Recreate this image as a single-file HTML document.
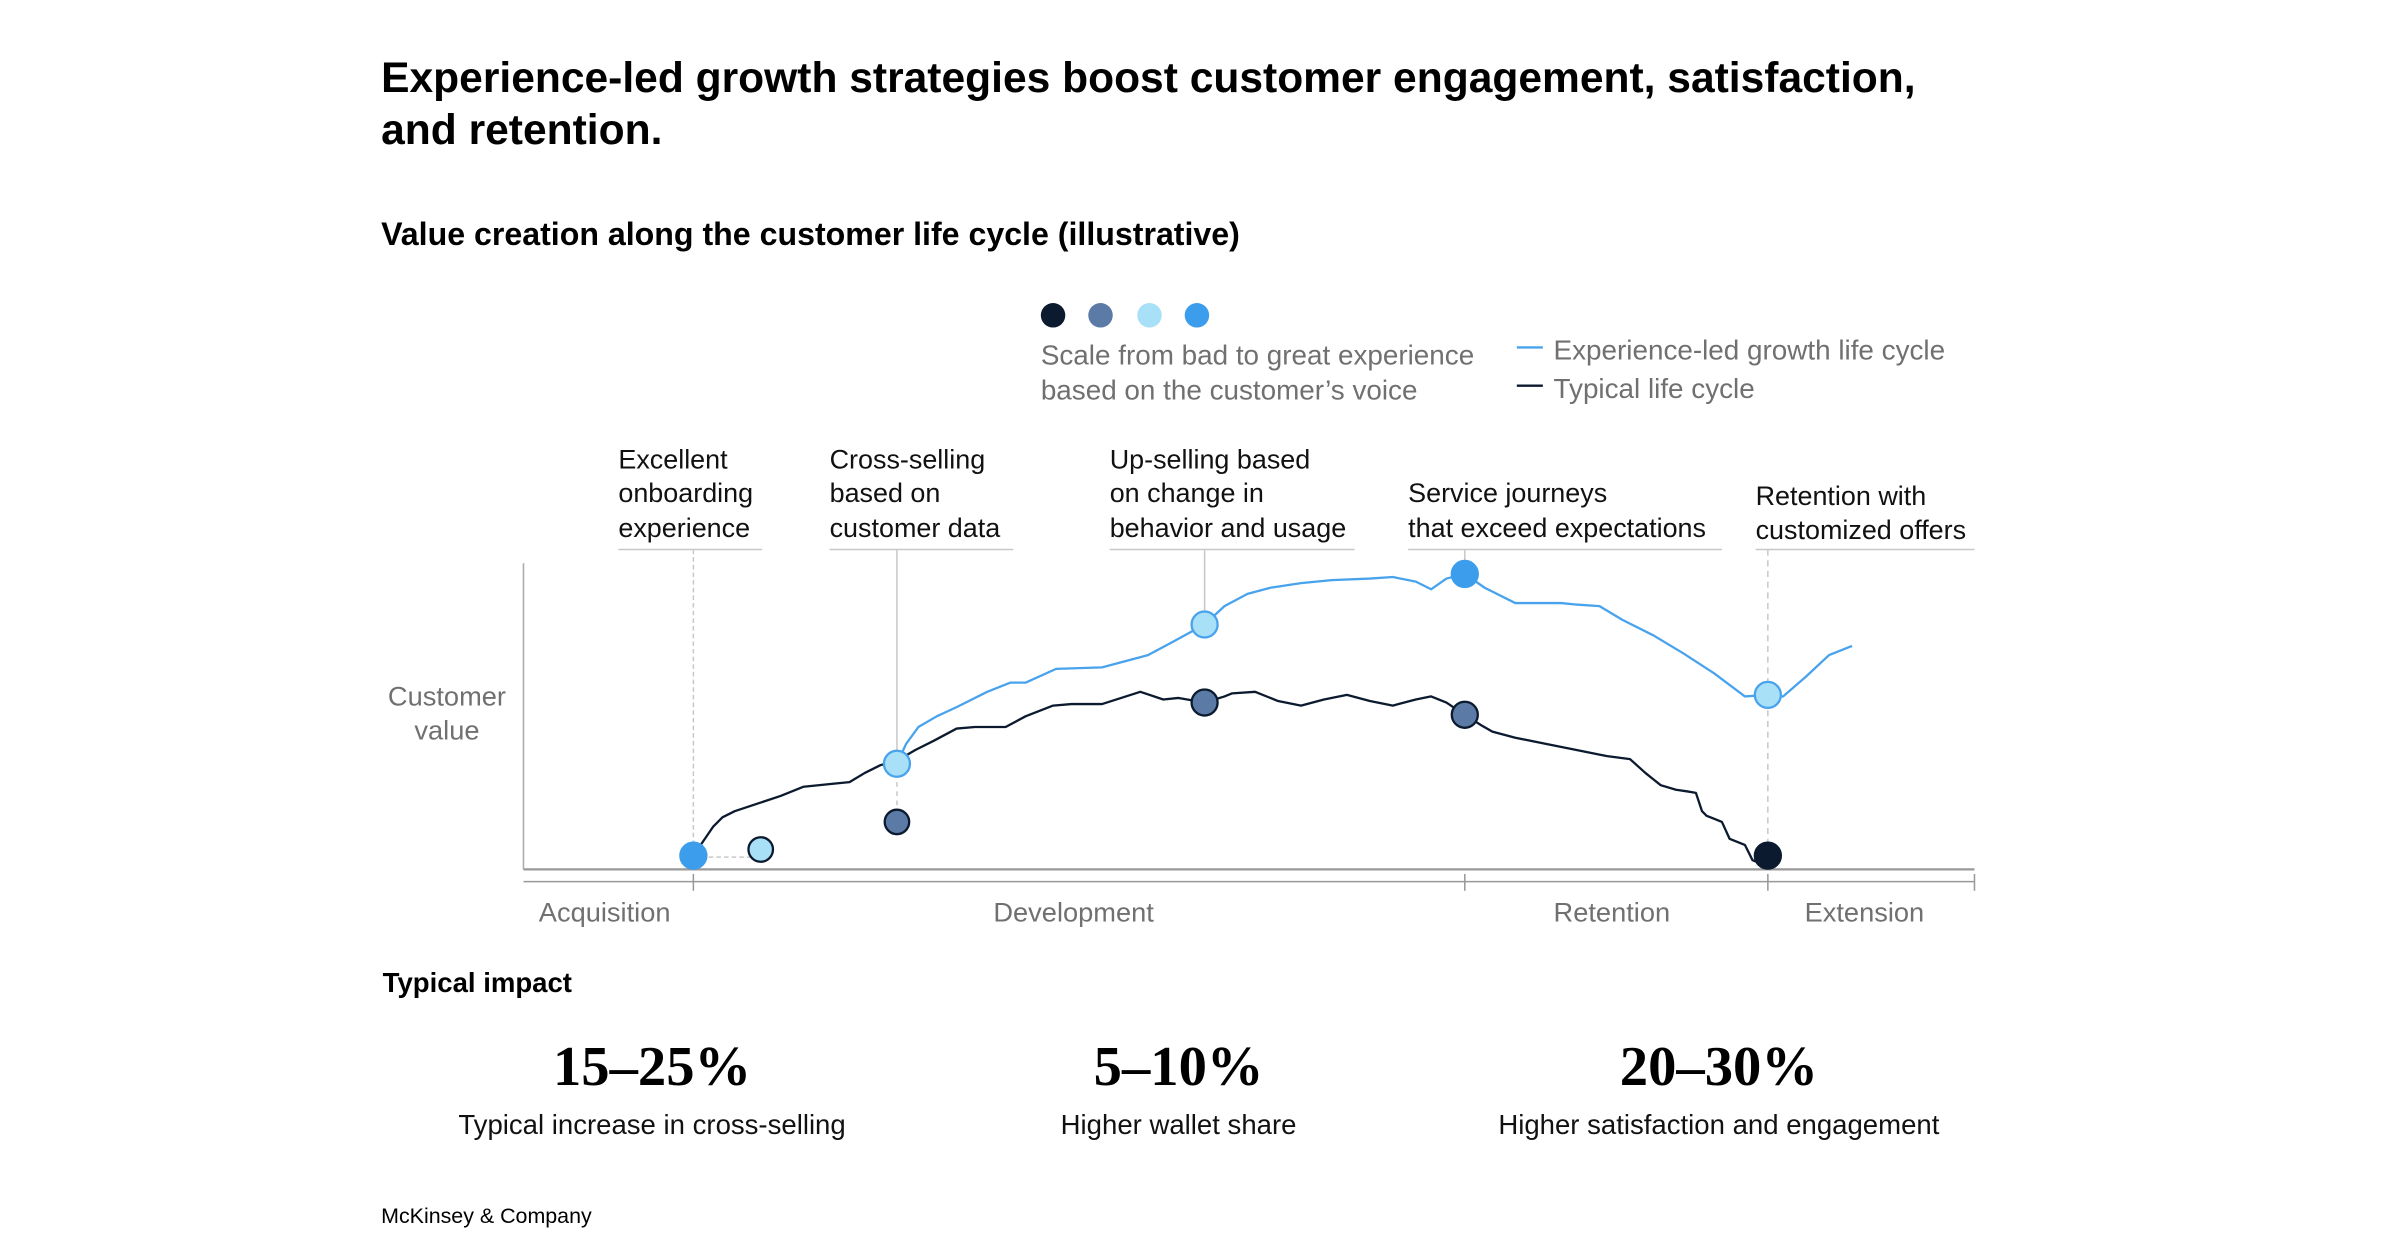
<!DOCTYPE html>
<html><head><meta charset="utf-8"><style>
html,body{margin:0;padding:0;background:#fff;}
svg{display:block;}
text{font-family:"Liberation Sans",sans-serif;}
</style></head><body>
<svg width="2400" height="1256" viewBox="0 0 1568 820.6" xmlns="http://www.w3.org/2000/svg">
<rect width="1568" height="820.6" fill="#fff"/>
<text x="249" y="60" font-size="27.8" font-weight="bold" fill="#000">Experience-led growth strategies boost customer engagement, satisfaction,</text>
<text x="249" y="94" font-size="27.8" font-weight="bold" fill="#000">and retention.</text>
<text x="249" y="160" font-size="21" font-weight="bold" fill="#000">Value creation along the customer life cycle (illustrative)</text>

<circle cx="688" cy="206" r="8" fill="#0b1a2e"/>
<circle cx="719" cy="206" r="8" fill="#5b7aa5"/>
<circle cx="751" cy="206" r="8" fill="#a8e0f8"/>
<circle cx="782" cy="206" r="8" fill="#3d9ded"/>
<g font-size="18.2" fill="#707070">
<text x="680" y="238">Scale from bad to great experience</text>
<text x="680" y="261">based on the customer’s voice</text>
<text x="1015" y="235">Experience-led growth life cycle</text>
<text x="1015" y="260">Typical life cycle</text>
</g>
<line x1="991" y1="227" x2="1008" y2="227" stroke="#49a3ec" stroke-width="1.5"/>
<line x1="991" y1="252" x2="1008" y2="252" stroke="#0b1a2e" stroke-width="1.5"/>

<g font-size="17.6" fill="#111">
<text x="404" y="306">Excellent</text><text x="404" y="328">onboarding</text><text x="404" y="351">experience</text>
<text x="542" y="306">Cross-selling</text><text x="542" y="328">based on</text><text x="542" y="351">customer data</text>
<text x="725" y="306">Up-selling based</text><text x="725" y="328">on change in</text><text x="725" y="351">behavior and usage</text>
<text x="920" y="328">Service journeys</text><text x="920" y="351">that exceed expectations</text>
<text x="1147" y="330">Retention with</text><text x="1147" y="352">customized offers</text>
</g>
<g stroke="#c8c8c8" stroke-width="1">
<line x1="404" y1="359" x2="498" y2="359"/>
<line x1="542" y1="359" x2="662" y2="359"/>
<line x1="725" y1="359" x2="885" y2="359"/>
<line x1="920" y1="359" x2="1125" y2="359"/>
<line x1="1147" y1="359" x2="1290" y2="359"/>
<line x1="453" y1="359" x2="453" y2="559" stroke-dasharray="3 2"/>
<line x1="586" y1="359" x2="586" y2="499"/>
<line x1="586" y1="499" x2="586" y2="537" stroke-dasharray="3 3"/>
<line x1="787" y1="359" x2="787" y2="408"/>
<line x1="957" y1="359" x2="957" y2="375"/>
<line x1="1155" y1="359" x2="1155" y2="566" stroke-dasharray="4 3"/>
<line x1="453" y1="560" x2="497" y2="560" stroke-dasharray="3 2"/>
</g>

<line x1="342" y1="368" x2="342" y2="568" stroke="#aaa" stroke-width="1"/>
<line x1="342" y1="568" x2="1290" y2="568" stroke="#999" stroke-width="1.5"/>
<line x1="342" y1="576" x2="1290" y2="576" stroke="#999" stroke-width="1"/>
<g stroke="#999" stroke-width="1">
<line x1="453" y1="571" x2="453" y2="582"/><line x1="957" y1="571" x2="957" y2="582"/>
<line x1="1155" y1="571" x2="1155" y2="582"/><line x1="1290" y1="571" x2="1290" y2="582"/>
</g>
<g font-size="17.8" fill="#707070">
<text x="292" y="461" text-anchor="middle">Customer</text>
<text x="292" y="483" text-anchor="middle">value</text>
<text x="352" y="602">Acquisition</text>
<text x="649" y="602">Development</text>
<text x="1015" y="602">Retention</text>
<text x="1179" y="602">Extension</text>
</g>

<polyline fill="none" stroke="#49a3ec" stroke-width="1.5" stroke-linejoin="round" points="586,499 592,486 600,475 612,468 625,462 645,452 660,446 670,446 690,437 720,436 735,432 750,428 765,420 787,408 800,396 815,388 830,384 850,381 870,379 895,378 910,377 925,380 935,385 945,378 957,375 970,384 990,394 1020,394 1030,395 1045,396 1060,405 1080,415 1100,427 1120,440 1140,455 1155,454 1160,455 1165,455 1180,442 1195,428 1210,422"/>
<polyline fill="none" stroke="#0b1a2e" stroke-width="1.5" stroke-linejoin="round" points="453,559 466,540 472,534 480,530 495,525 510,520 525,514 545,512 555,511 565,505 575,500 586,497 598,490 610,484 625,476 637,475 657,475 670,468 688,461 700,460 720,460 745,452 760,457 770,456 787,459 800,455 805,453 820,452 835,458 850,461 865,457 880,454 895,458 910,461 925,457 935,455 945,459 957,467 968,474 975,478 990,482 1010,486 1030,490 1045,493 1050,494 1065,496 1075,505 1085,513 1095,516 1102,517 1108,518 1112,530 1115,533 1120,535 1125,537 1130,548 1140,552 1145,562 1155,566"/>

<g stroke-width="1.5">
<circle cx="453" cy="559" r="8.5" fill="#3d9ded" stroke="#3d9ded"/>
<circle cx="497" cy="555" r="8" fill="#a8e0f8" stroke="#0b1a2e"/>
<circle cx="586" cy="537" r="8" fill="#5b7aa5" stroke="#0b1a2e"/>
<circle cx="586" cy="499" r="8.5" fill="#a8e0f8" stroke="#49a3ec"/>
<circle cx="787" cy="408" r="8.5" fill="#a8e0f8" stroke="#49a3ec"/>
<circle cx="787" cy="459" r="8.5" fill="#5b7aa5" stroke="#0b1a2e"/>
<circle cx="957" cy="375" r="8.5" fill="#3d9ded" stroke="#3d9ded"/>
<circle cx="957" cy="467" r="8.5" fill="#5b7aa5" stroke="#0b1a2e"/>
<circle cx="1155" cy="454" r="8.5" fill="#a8e0f8" stroke="#49a3ec"/>
<circle cx="1155" cy="559" r="8.5" fill="#0b1a2e" stroke="#0b1a2e"/>
</g>

<text x="250" y="648" font-size="18" font-weight="bold" fill="#000">Typical impact</text>
<g font-size="37" font-weight="bold" fill="#000" text-anchor="middle">
<text x="426" y="709" style="font-family:'Liberation Serif',serif">15–25%</text>
<text x="770" y="709" style="font-family:'Liberation Serif',serif">5–10%</text>
<text x="1123" y="709" style="font-family:'Liberation Serif',serif">20–30%</text>
</g>
<g font-size="18" fill="#111" text-anchor="middle">
<text x="426" y="741">Typical increase in cross-selling</text>
<text x="770" y="741">Higher wallet share</text>
<text x="1123" y="741">Higher satisfaction and engagement</text>
</g>
<text x="249" y="799" font-size="14" fill="#000">McKinsey &amp; Company</text>
</svg>
</body></html>
